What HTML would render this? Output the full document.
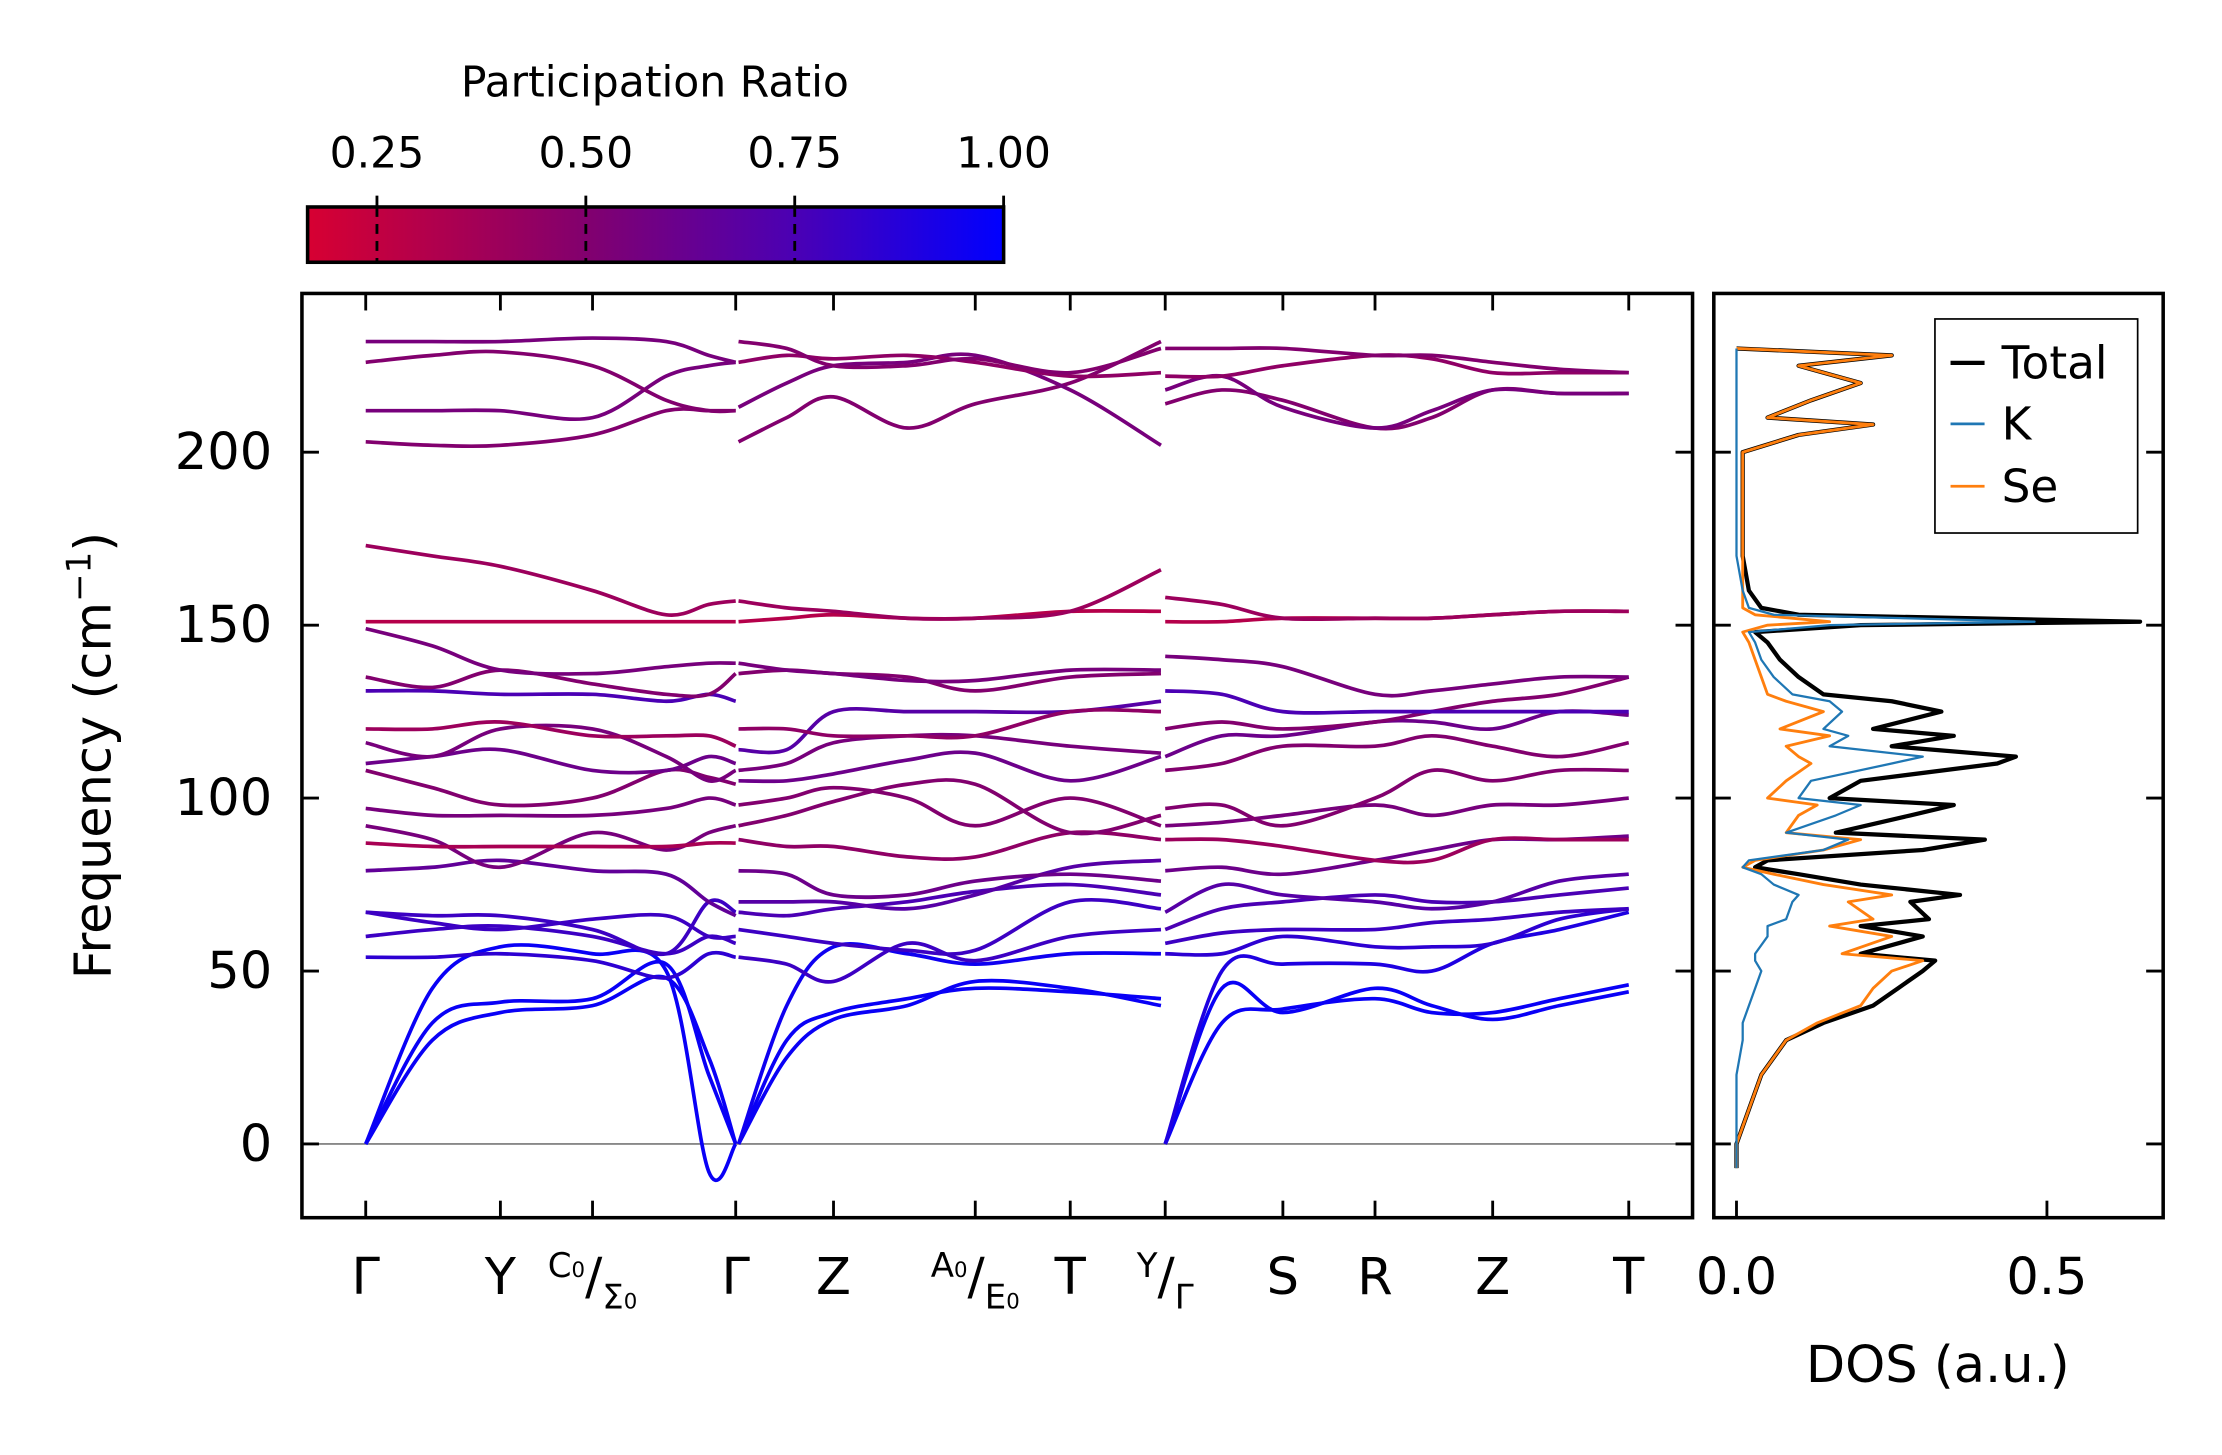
<!DOCTYPE html>
<html><head><meta charset="utf-8"><style>
html,body{margin:0;padding:0;background:#fff;}
svg{display:block;font-family:"DejaVu Sans","Liberation Sans",sans-serif;}
</style></head><body>
<svg id="fig" width="2222" height="1455" viewBox="0 0 1567.5 1026.4" xmlns="http://www.w3.org/2000/svg">
<defs>
<linearGradient id="cmap" x1="0" x2="1" y1="0" y2="0">
<stop offset="0" stop-color="rgb(215,0,50)"/>
<stop offset="0.4" stop-color="rgb(130,0,110)"/>
<stop offset="0.7" stop-color="rgb(75,0,180)"/>
<stop offset="1" stop-color="rgb(0,0,255)"/>
</linearGradient>
<clipPath id="mainclip"><rect x="213" y="207" width="981" height="652"/></clipPath>
<clipPath id="dosclip"><rect x="1209" y="207" width="317" height="652"/></clipPath>
</defs>
<g id="colorbar">
<text x="462" y="68" font-size="30" text-anchor="middle">Participation Ratio</text>
<rect x="217" y="146" width="491" height="39" fill="url(#cmap)" stroke="#000" stroke-width="2.5"/>
</g>
<g id="main">
<line x1="213" x2="1194" y1="807" y2="807" stroke="#888" stroke-width="1.3"/>
<g id="bands" clip-path="url(#mainclip)"></g>
<rect x="213" y="207" width="981" height="652" fill="none" stroke="#000" stroke-width="2.5"/>
<g id="mainticks"></g>
<text transform="translate(78,533) rotate(-90)" font-size="36" text-anchor="middle">Frequency (cm<tspan font-size="24" dy="-14">−1</tspan><tspan dy="14">)</tspan></text>
</g>
<g id="dos">
<g id="doslines" clip-path="url(#dosclip)"></g>
<rect x="1209" y="207" width="317" height="652" fill="none" stroke="#000" stroke-width="2.5"/>
<g id="dosticks"></g>
<text x="1367" y="975" font-size="36" text-anchor="middle">DOS (a.u.)</text>
<g>
<rect x="1365" y="225" width="143" height="151" fill="#fff" stroke="#000" stroke-width="1.2"/>
<line x1="1376" x2="1400" y1="256" y2="256" stroke="#000" stroke-width="3"/>
<text x="1412" y="267" font-size="32">Total</text>
<line x1="1376" x2="1400" y1="299" y2="299" stroke="#1f77b4" stroke-width="2"/>
<text x="1412" y="310" font-size="32">K</text>
<line x1="1376" x2="1400" y1="343" y2="343" stroke="#ff7f0e" stroke-width="2"/>
<text x="1412" y="354" font-size="32">Se</text>
</g>
</g>
</svg>
<script>
const NS="http://www.w3.org/2000/svg";
// ---- data ----
const kTickPos=[2.58,3.53,4.18,5.19,5.88,6.88,7.55,8.22,9.05,9.70,10.53,11.49];
const kTickLabels=["Γ","Y","C0|Σ0","Γ","Z","A0|E0","T","Y|Γ","S","R","Z","T"];
const yTicks=[0,50,100,150,200];
const cbTicks=[0.25,0.5,0.75,1.0];
const seg1K=[2.58,3.05,3.53,4.18,4.70,5.00,5.19];
const seg2K=[5.21,5.55,5.88,6.40,6.88,7.55,8.19];
const seg3K=[8.22,8.62,9.05,9.70,10.10,10.53,11.00,11.49];
const seg1Bands=[
[0,30,38,40,48,25,0],[0,35,41,42,52,20,0],[0,45,57,55,50,-8,0],
[54,54,55,53,48,55,54],[60,62,63,60,55,60,58],[67,66,66,62,55,70,67],
[67,64,62,65,66,60,60],[79,80,82,79,78,70,66],[92,88,80,90,85,90,92],
[87,86,86,86,86,87,87],[97,95,95,95,97,100,98],[108,103,98,100,108,106,104],
[110,112,114,108,108,112,110],[116,112,120,120,112,105,108],[120,120,122,118,118,118,115],
[131,131,130,130,128,130,128],[135,132,137,133,130,130,136],[149,144,137,136,138,139,139],
[151,151,151,151,151,151,151],[173,170,167,160,153,156,157],[203,202,202,205,212,212,212],
[212,212,212,210,222,225,226],[226,228,229,225,215,212,212],[232,232,232,233,232,228,226]];
const seg1PR=[0.97,0.97,0.97,0.85,0.8,0.8,0.8,0.65,0.55,0.35,0.55,0.5,0.6,0.55,0.4,0.75,0.5,0.55,0.3,0.4,0.5,0.55,0.5,0.55];
const seg2Bands=[
[0,25,36,40,47,45,40],[0,30,38,42,45,44,42],[0,40,57,55,52,55,55],
[54,52,47,58,53,60,62],[62,60,58,56,56,70,68],[67,66,68,70,73,75,72],
[70,70,70,68,72,80,82],[79,78,72,72,76,78,76],[88,86,86,83,83,90,88],
[92,95,99,104,104,90,95],[98,100,103,100,92,100,92],[105,105,107,111,113,105,112],
[108,110,116,118,118,115,113],[114,114,125,125,125,125,128],[120,120,118,118,118,125,125],
[136,137,136,135,131,135,136],[139,137,136,134,134,137,137],[151,152,153,152,152,154,154],
[157,155,154,152,152,154,166],[203,210,216,207,214,220,232],[213,220,225,226,228,218,202],
[226,228,227,228,226,222,223],[232,230,225,225,227,223,230]];
const seg2PR=[0.97,0.97,0.95,0.8,0.8,0.75,0.7,0.6,0.45,0.5,0.5,0.6,0.55,0.7,0.45,0.5,0.55,0.3,0.4,0.5,0.55,0.45,0.5];
const seg3Bands=[
[0,45,38,45,40,36,40,44],[0,35,39,42,38,38,42,46],[0,50,52,52,50,58,62,67],
[55,55,60,57,57,58,65,68],[58,61,62,62,64,65,67,68],[62,68,70,72,70,70,72,74],
[67,75,72,70,68,70,76,78],[79,80,78,82,85,88,88,89],[88,88,86,82,82,88,88,88],
[92,93,95,98,95,98,98,100],[97,98,92,100,108,105,108,108],[108,110,115,115,118,115,112,116],
[112,118,118,122,122,120,125,124],[120,122,120,122,125,128,130,135],[131,130,125,125,125,125,125,125],
[141,140,138,130,131,133,135,135],[151,151,152,152,152,153,154,154],[158,156,152,152,152,153,154,154],
[214,218,215,207,210,218,217,217],[218,222,213,207,212,218,217,217],[222,222,225,228,227,223,223,223],
[230,230,230,228,228,226,224,223]];
const seg3PR=[0.97,0.97,0.9,0.85,0.8,0.75,0.7,0.6,0.4,0.55,0.5,0.5,0.6,0.5,0.75,0.55,0.3,0.4,0.5,0.55,0.45,0.5];
const dosFreq=[-7,0,10,20,30,35,40,45,50,53,55,60,63,65,70,72,75,78,80,82,85,88,90,95,98,100,105,110,112,115,118,120,125,128,130,135,140,145,148,150,151,153,155,160,170,180,200,205,208,210,215,220,225,228,230];
const dosTotal=[0,0,0.02,0.04,0.08,0.14,0.22,0.26,0.30,0.32,0.20,0.30,0.20,0.31,0.28,0.36,0.20,0.10,0.03,0.05,0.30,0.40,0.16,0.28,0.35,0.15,0.20,0.42,0.45,0.25,0.35,0.22,0.33,0.25,0.14,0.10,0.07,0.05,0.03,0.20,0.65,0.10,0.04,0.02,0.01,0.01,0.01,0.10,0.22,0.05,0.12,0.20,0.10,0.25,0];
const dosSe=[0,0,0.02,0.04,0.08,0.13,0.20,0.22,0.25,0.30,0.17,0.25,0.15,0.22,0.18,0.25,0.14,0.06,0.01,0.03,0.14,0.20,0.08,0.10,0.13,0.05,0.08,0.12,0.10,0.08,0.15,0.07,0.14,0.08,0.05,0.04,0.03,0.02,0.01,0.05,0.15,0.03,0.01,0.01,0.01,0.01,0.01,0.10,0.22,0.05,0.12,0.20,0.10,0.25,0];
const dosK=[0,0,0,0,0.01,0.01,0.02,0.03,0.04,0.03,0.03,0.05,0.05,0.08,0.09,0.10,0.06,0.04,0.01,0.02,0.14,0.18,0.08,0.16,0.20,0.10,0.12,0.25,0.30,0.15,0.18,0.14,0.17,0.15,0.09,0.06,0.04,0.03,0.02,0.15,0.48,0.06,0.02,0.01,0,0,0,0,0,0,0,0,0,0,0];
const dosTicks=[0.0,0.5];
// ---- scales ----
const xK=k=>k*100;
const yF=f=>807-f*2.44;
const xD=d=>1225+d*438;
const xCB=p=>217+(p-0.167)/(1-0.167)*491;
function prColor(p){
  const st=[[0.167,[215,0,50]],[0.5,[130,0,110]],[0.75,[75,0,180]],[1,[0,0,255]]];
  for(let i=0;i<st.length-1;i++){const a=st[i],b=st[i+1];
    if(p<=b[0]){const t=Math.max(0,(p-a[0])/(b[0]-a[0]));
      return 'rgb('+a[1].map((c,j)=>Math.round(c+(b[1][j]-c)*t)).join(',')+')';}}
  return 'rgb(0,0,255)';
}
function mk(tag,attrs,parent){const e=document.createElementNS(NS,tag);for(const k in attrs)e.setAttribute(k,attrs[k]);parent.appendChild(e);return e;}
function spline(pts){
  let d='M'+pts[0][0].toFixed(2)+','+pts[0][1].toFixed(2);
  for(let i=0;i<pts.length-1;i++){
    const p0=pts[i-1]||pts[i],p1=pts[i],p2=pts[i+1],p3=pts[i+2]||pts[i+1];
    const c1=[p1[0]+(p2[0]-p0[0])/6,p1[1]+(p2[1]-p0[1])/6];
    const c2=[p2[0]-(p3[0]-p1[0])/6,p2[1]-(p3[1]-p1[1])/6];
    d+=' C'+c1.map(v=>v.toFixed(2))+' '+c2.map(v=>v.toFixed(2))+' '+p2[0].toFixed(2)+','+p2[1].toFixed(2);
  }
  return d;
}
const bandsG=document.getElementById('bands');
[[seg1K,seg1Bands,seg1PR],[seg2K,seg2Bands,seg2PR],[seg3K,seg3Bands,seg3PR]].forEach((s,si)=>{
  s[1].forEach((b,bi)=>{
    const p=mk('path',{d:spline(b.map((v,i)=>[xK(s[0][i]),yF(v)])),fill:'none',stroke:prColor(s[2][bi]),'stroke-width':2.6},bandsG);
    
    
  });
});
// main ticks
const mt=document.getElementById('mainticks');
kTickPos.forEach((k,i)=>{
  const x=xK(k);
  const t1=mk('line',{x1:x,x2:x,y1:859,y2:847,stroke:'#000','stroke-width':2},mt);
  
  
  const t2=mk('line',{x1:x,x2:x,y1:207,y2:219,stroke:'#000','stroke-width':2},mt);
  
  
  const lab=kTickLabels[i];
  const tx=mk('text',{x:x,y:913,'font-size':36,'text-anchor':'middle'},mt);
  
  
  if(lab.indexOf('|')>=0){
    const [a,b]=lab.split('|');
    const sup=a.length>1?a[0]+'<tspan font-size="15">'+a.slice(1)+'</tspan>':a;
    const sub=b.length>1?b[0]+'<tspan font-size="15">'+b.slice(1)+'</tspan>':b;
    tx.innerHTML='<tspan font-size="24" dy="-12">'+sup+'</tspan><tspan dy="12">/</tspan><tspan font-size="24" dy="10">'+sub+'</tspan>';
  } else tx.textContent=lab;
});
yTicks.forEach(v=>{
  const y=yF(v);
  [[213,225],[1194,1182],[1209,1221],[1526,1514]].forEach(p=>{
    const t=mk('line',{x1:p[0],x2:p[1],y1:y,y2:y,stroke:'#000','stroke-width':2},mt);
    
    
  });
  const l=mk('text',{x:192,y:y+12,'font-size':36,'text-anchor':'end'},mt);
  
  
  l.textContent=v;
});
// colorbar ticks
const cb=document.getElementById('colorbar');
cbTicks.forEach(p=>{
  const x=xCB(p);
  const t=mk('line',{x1:x,x2:x,y1:138,y2:146,stroke:'#000','stroke-width':2},cb);
  
  
  if(p<1){const dl=mk('line',{x1:x,x2:x,y1:146,y2:185,stroke:'#000','stroke-width':2,'stroke-dasharray':'7,5'},cb);
  
  }
  const l=mk('text',{x:x,y:118,'font-size':30,'text-anchor':'middle'},cb);
  
  
  l.textContent=p.toFixed(2);
});
// DOS
const dl=document.getElementById('doslines');
[[dosTotal,'#000',3,'dos-total'],[dosSe,'#ff7f0e',2,'dos-se'],[dosK,'#1f77b4',1.6,'dos-k']].forEach(s=>{
  const pts=s[0].map((v,i)=>xD(v).toFixed(2)+','+yF(dosFreq[i]).toFixed(2));
  const p=mk('polyline',{points:pts.join(' '),fill:'none',stroke:s[1],'stroke-width':s[2],'stroke-linejoin':'round'},dl);
  
  
});
const dt=document.getElementById('dosticks');
dosTicks.forEach(v=>{
  const x=xD(v);
  const t=mk('line',{x1:x,x2:x,y1:859,y2:847,stroke:'#000','stroke-width':2},dt);
  
  
  const l=mk('text',{x:x,y:913,'font-size':36,'text-anchor':'middle'},dt);
  
  
  l.textContent=v.toFixed(1);
});
</script>
</body></html>
